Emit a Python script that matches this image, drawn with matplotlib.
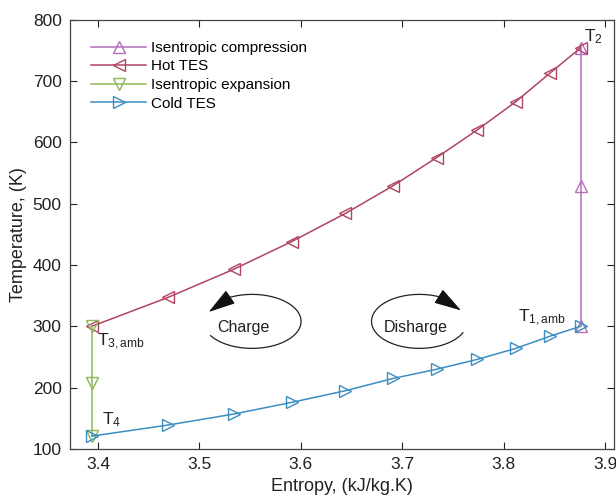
import numpy as np
import matplotlib
matplotlib.use('Agg')
import matplotlib.pyplot as plt

plt.rcParams['font.family'] = ['Liberation Sans', 'DejaVu Sans']
plt.rcParams['mathtext.fontset'] = 'custom'
plt.rcParams['mathtext.rm'] = 'Liberation Sans'
plt.rcParams['mathtext.it'] = 'Liberation Sans'

# data
s_comp = [3.876, 3.876, 3.876]
T_comp = [300, 528, 754]

s_hot = [3.876, 3.846, 3.812, 3.774, 3.734, 3.691, 3.644, 3.591, 3.534, 3.469, 3.394]
T_hot = [754, 713, 666, 620, 575, 529, 484, 438, 393, 347, 300]

s_exp = [3.394, 3.394, 3.394]
T_exp = [300, 207, 121]

s_cold = [3.394, 3.469, 3.534, 3.591, 3.644, 3.691, 3.734, 3.774, 3.812, 3.846, 3.876]
T_cold = [121, 139, 157, 176, 195, 215, 230, 246, 264, 284, 300]

c_comp = '#B36FBA'
c_hot = '#B04462'
c_exp = '#8DB856'
c_cold = '#3B8DC2'

fig = plt.figure(figsize=(6.16, 5.0), dpi=100)
ax = fig.add_axes([0.1136, 0.102, 0.8834, 0.859])

mk = dict(markersize=8.5, markerfacecolor='none', linewidth=1.1, markeredgewidth=1.0)
ax.plot(s_comp, T_comp, '-^', color=c_comp, label='Isentropic compression', **mk)
ax.plot(s_hot, T_hot, '-<', color=c_hot, label='Hot TES', **mk)
ax.plot(s_exp, T_exp, '-v', color=c_exp, label='Isentropic expansion', **mk)
ax.plot(s_cold, T_cold, '->', color=c_cold, label='Cold TES', **mk)

# state labels
ax.text(3.879, 765, r'T$_{2}$', fontsize=12.5, color='#222222')
ax.text(3.814, 307, r'T$_{1,\mathregular{amb}}$', fontsize=12.5, color='#222222')
ax.text(3.399, 258, r'T$_{3,\mathregular{amb}}$', fontsize=12.5, color='#222222', va='bottom')
ax.text(3.404, 132, r'T$_{4}$', fontsize=12.5, color='#222222', va='bottom')

# cycle direction loops
def loop(cx, cy, w, h, t1, t2, head_at, dx, dy):
    t = np.radians(np.linspace(t1, t2, 200))
    xs = cx + w / 2 * np.cos(t)
    ys = cy + h / 2 * np.sin(t)
    ax.plot(xs, ys, color='#222222', linewidth=0.9)
    i = -1 if head_at == 'end' else 0
    p0 = (xs[i], ys[i])
    p1 = (xs[i] + dx, ys[i] + dy)
    ax.annotate('', xy=p1, xytext=p0,
                arrowprops=dict(arrowstyle='-|>,head_length=1.7,head_width=0.5',
                                color='#111111', lw=0.9, shrinkA=0, shrinkB=0))

loop(3.552, 308, 0.0965, 88, -148, 117, 'end', -0.021, -24)
ax.text(3.543, 298, 'Charge', fontsize=11.5, ha='center', va='center', color='#222222')
loop(3.717, 308, 0.0945, 88, 65, 335, 'start', 0.021, -22)
ax.text(3.713, 298, 'Disharge', fontsize=11.5, ha='center', va='center', color='#222222')

ax.set_xlim(3.3724, 3.909)
ax.set_ylim(100, 800)
ax.set_xticks([3.4, 3.5, 3.6, 3.7, 3.8, 3.9])
ax.set_yticks(range(100, 801, 100))
ax.set_xlabel('Entropy, (kJ/kg.K)', fontsize=13, color='#222222', labelpad=4)
ax.set_ylabel('Temperature, (K)', fontsize=13, color='#222222')
ax.tick_params(direction='in', top=True, right=True, labelsize=12.5, length=5,
               colors='#222222', pad=6)
for sp in ax.spines.values():
    sp.set_color('#444444')
    sp.set_linewidth(0.9)

leg = ax.legend(loc='upper left', frameon=False, fontsize=11, handlelength=3.6,
                handletextpad=0.3, labelspacing=0.3, borderaxespad=1.0)

fig.savefig('out.png', dpi=100)
